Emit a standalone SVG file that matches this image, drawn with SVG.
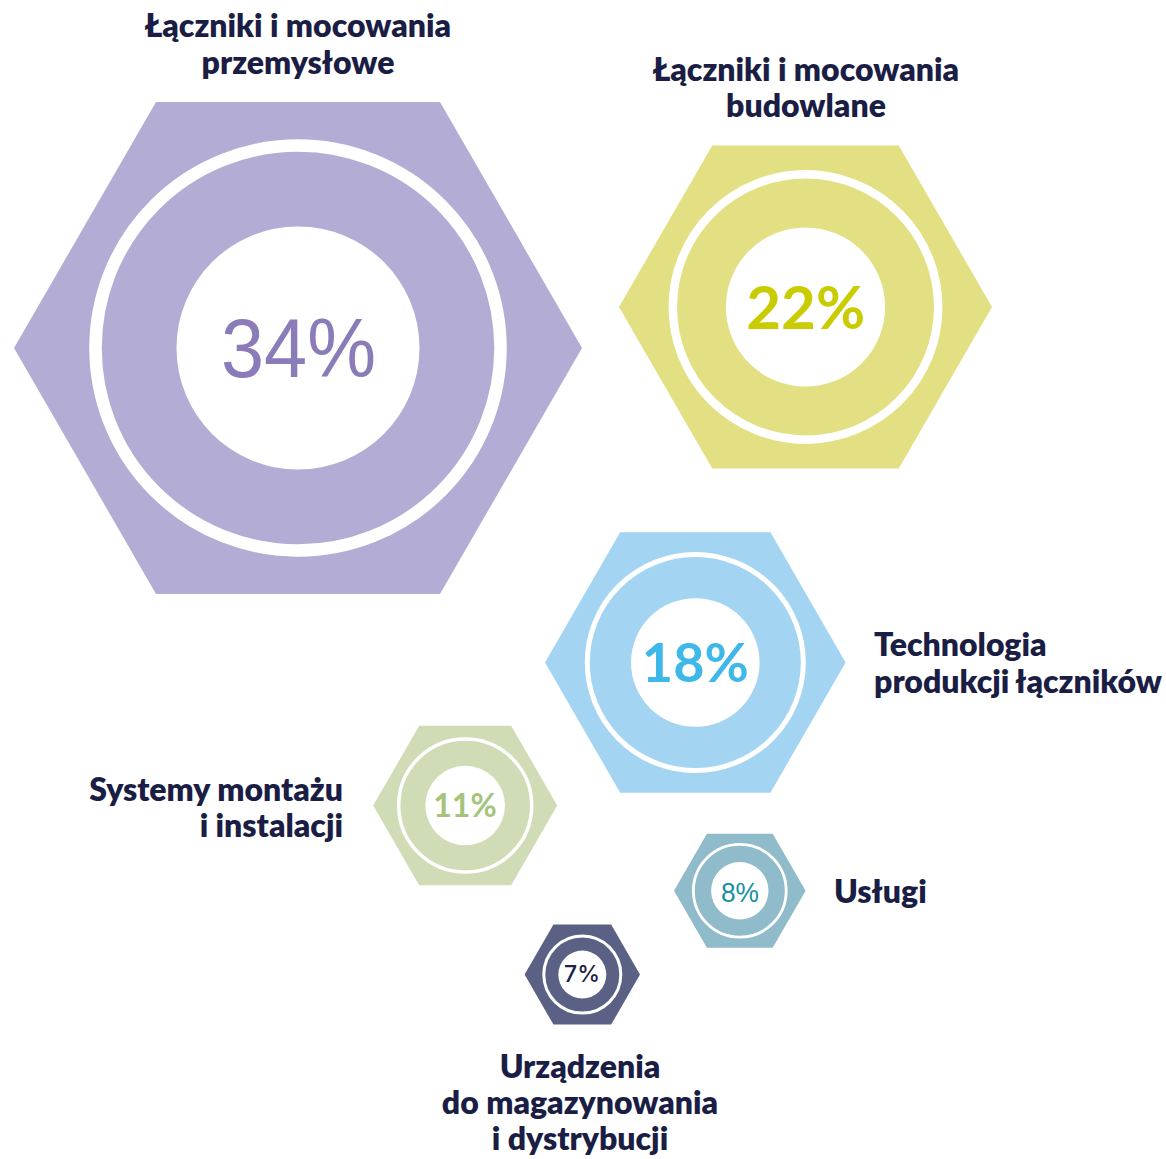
<svg xmlns="http://www.w3.org/2000/svg" width="1166" height="1159" viewBox="0 0 1166 1159">
<style>
.ring{fill:none;stroke:#ffffff}
.hole{fill:#ffffff}
.lbl{font-family:Lato,"Liberation Sans",sans-serif;font-weight:800;font-size:32px;fill:#1b1e44}
.pct{text-anchor:middle}
</style>
<rect width="1166" height="1159" fill="#ffffff"/>
<g id="node-przemyslowe">
<polygon points="14,348 156,102.1 440,102.1 582,348 440,593.9 156,593.9" fill="#b3acd4"/>
<circle class="ring" cx="298" cy="348" r="202.5" stroke-width="12.5"/>
<circle class="hole" cx="298" cy="348" r="121.5"/>
<text class="pct" x="298.5" y="377" font-family="'Liberation Sans',Arial,sans-serif" font-size="83" fill="#8b7bb8" textLength="155" lengthAdjust="spacingAndGlyphs">34%</text>
<text class="lbl" text-anchor="middle" x="298" y="36.5">Łączniki i mocowania</text>
<text class="lbl" text-anchor="middle" x="298" y="73.5">przemysłowe</text>
</g>
<g id="node-budowlane">
<polygon points="619,307 712.25,145.5 898.75,145.5 992,307 898.75,468.5 712.25,468.5" fill="#e2e082"/>
<circle class="ring" cx="805.5" cy="307" r="132.7" stroke-width="8.5"/>
<circle class="hole" cx="805.5" cy="307" r="79.6"/>
<text class="pct" x="805.7" y="328.7" font-family="Lato,'Liberation Sans',sans-serif" font-weight="700" font-size="60" fill="#c9cc00">22%</text>
<text class="lbl" text-anchor="middle" x="806" y="81">Łączniki i mocowania</text>
<text class="lbl" text-anchor="middle" x="806" y="117">budowlane</text>
</g>
<g id="node-technologia">
<polygon points="545,662.5 620.15,532.3 770.45,532.3 845.6,662.5 770.45,792.7 620.15,792.7" fill="#a3d5f3"/>
<circle class="ring" cx="695.3" cy="662.5" r="108" stroke-width="5"/>
<circle class="hole" cx="695.3" cy="662.5" r="64.3"/>
<text class="pct" x="695.3" y="682" font-family="Lato,'Liberation Sans',sans-serif" font-weight="700" font-size="54" fill="#3db8e9">18%</text>
<text class="lbl" x="874" y="655.5">Technologia</text>
<text class="lbl" x="874" y="692.5">produkcji łączników</text>
</g>
<g id="node-systemy">
<polygon points="373.2,805.5 419.2,725.8 511.2,725.8 557.2,805.5 511.2,885.2 419.2,885.2" fill="#cfdcb5"/>
<circle class="ring" cx="465.2" cy="805.5" r="66.5" stroke-width="3.5"/>
<circle class="hole" cx="465.2" cy="805.5" r="39.8"/>
<text class="pct" x="465" y="817.3" font-family="Lato,'Liberation Sans',sans-serif" font-weight="700" font-size="32" fill="#a5c37a">11%</text>
<text class="lbl" text-anchor="end" x="343" y="800.5">Systemy montażu</text>
<text class="lbl" text-anchor="end" x="343" y="836.5">i instalacji</text>
</g>
<g id="node-uslugi">
<polygon points="674,890.8 706.9,833.8 772.7,833.8 805.6,890.8 772.7,947.8 706.9,947.8" fill="#8fbbca"/>
<circle class="ring" cx="739.8" cy="890.8" r="46.4" stroke-width="2.8"/>
<circle class="hole" cx="739.8" cy="890.8" r="28.7"/>
<text class="pct" x="740" y="901.7" font-family="'Liberation Sans',Arial,sans-serif" font-size="28" fill="#17909f" textLength="38" lengthAdjust="spacingAndGlyphs">8%</text>
<text class="lbl" x="834" y="902.5">Usługi</text>
</g>
<g id="node-urzadzenia">
<polygon points="524.6,974.6 553.45,924.6 611.15,924.6 640,974.6 611.15,1024.6 553.45,1024.6" fill="#5b6185"/>
<circle class="ring" cx="582.3" cy="974.6" r="38.5" stroke-width="3"/>
<circle class="hole" cx="582.3" cy="974.6" r="24"/>
<text class="pct" x="582" y="982" font-family="Inter,'Liberation Sans',sans-serif" font-weight="500" font-size="23" fill="#1e2246">7%</text>
<text class="lbl" text-anchor="middle" x="580" y="1077.5">Urządzenia</text>
<text class="lbl" text-anchor="middle" x="580" y="1114">do magazynowania</text>
<text class="lbl" text-anchor="middle" x="580" y="1150">i dystrybucji</text>
</g>
<g id="connectors"></g>
</svg>
